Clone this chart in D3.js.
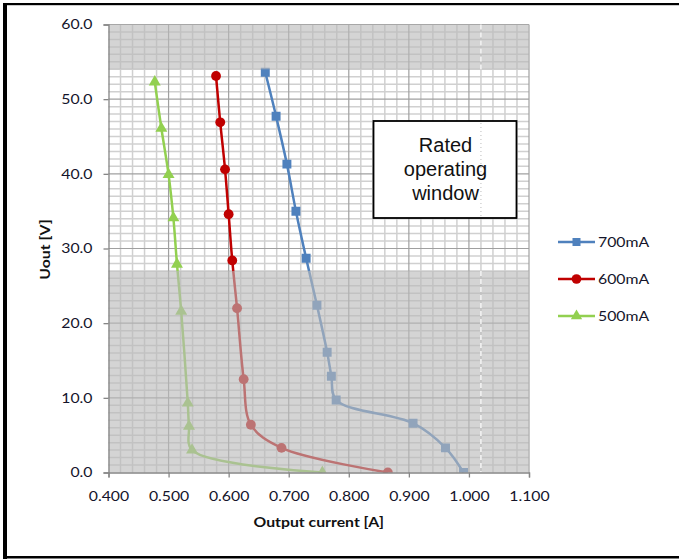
<!DOCTYPE html>
<html>
<head>
<meta charset="utf-8">
<script src="https://cdn.jsdelivr.net/npm/d3@7"></script>
<style>
  body { margin: 0; background: #fff; }
  svg { display: block; }
</style>
</head>
<body>
<div id="chart"></div>
<script>
// values
const seriesNames = ["700mA", "600mA", "500mA"];
const seriesColors = ["#4f81bd", "#c00000", "#92d050"];

const current700 = [0.661, 0.679, 0.697, 0.712, 0.729, 0.747, 0.764, 0.771, 0.779, 0.907, 0.961, 0.991];
const voltage700 = [53.6, 47.7, 41.3, 35.0, 28.7, 22.4, 16.1, 12.9, 9.7, 6.6, 3.3, 0.0];

const current600 = [0.579, 0.586, 0.594, 0.600, 0.606, 0.614, 0.625, 0.637, 0.688, 0.865];
const voltage600 = [53.1, 46.9, 40.6, 34.6, 28.4, 22.0, 12.5, 6.4, 3.3, 0.0];

const current500 = [0.477, 0.488, 0.500, 0.508, 0.514, 0.521, 0.532, 0.534, 0.539, 0.756];
const voltage500 = [52.3, 46.1, 39.9, 34.1, 27.9, 21.6, 9.3, 6.2, 3.0, 0.0];

const xTicks = [0.4, 0.5, 0.6, 0.7, 0.8, 0.9, 1.0, 1.1];
const yTicks = [0, 10, 20, 30, 40, 50, 60];

// gray bands outside the rated window (volts)
const grayBands = [[0, 27], [54, 60]];
const boxLines = ["Rated", "operating", "window"];

const W = 679, H = 559;
const margin = { left: 108.5, top: 24.5 };
const plotW = 420.5, plotH = 448;

const svg = d3.select("#chart").append("svg")
  .attr("width", W)
  .attr("height", H);

const x = d3.scaleLinear().domain([0.4, 1.1]).range([0, plotW]);
const y = d3.scaleLinear().domain([0, 60]).range([plotH, 0]);

const g = svg.append("g").attr("transform", `translate(${margin.left},${margin.top})`);

svg.append("defs").append("clipPath").attr("id", "plotclip")
  .append("rect").attr("width", plotW).attr("height", plotH);

// minor grid (0.02 A, 1 V)
const minorX = d3.range(0.42, 1.1, 0.02).filter(v => Math.abs(v * 10 - Math.round(v * 10)) > 1e-6);
const minorY = d3.range(1, 60, 1).filter(v => v % 10 !== 0);

g.append("g").selectAll("line").data(minorX).join("line")
  .attr("x1", d => x(d)).attr("x2", d => x(d))
  .attr("y1", 0).attr("y2", plotH)
  .attr("stroke", "#d0d0d0").attr("stroke-width", 1.5);

g.append("g").selectAll("line").data(minorY).join("line")
  .attr("x1", 0).attr("x2", plotW)
  .attr("y1", d => y(d)).attr("y2", d => y(d))
  .attr("stroke", "#d0d0d0").attr("stroke-width", 1.5);

// major grid
g.append("g").selectAll("line").data(xTicks.slice(1)).join("line")
  .attr("x1", d => x(d)).attr("x2", d => x(d))
  .attr("y1", 0).attr("y2", plotH)
  .attr("stroke", "#a0a0a0").attr("stroke-width", 1.2);

g.append("g").selectAll("line").data(yTicks.slice(1)).join("line")
  .attr("x1", 0).attr("x2", plotW)
  .attr("y1", d => y(d)).attr("y2", d => y(d))
  .attr("stroke", "#a0a0a0").attr("stroke-width", 1.2);

// series
const series = [
  { xs: current700, ys: voltage700, sym: d3.symbolSquare, size: 80 },
  { xs: current600, ys: voltage600, sym: d3.symbolCircle, size: 76 },
  { xs: current500, ys: voltage500, sym: d3.symbolTriangle, size: 62 }
];

const line = d3.line()
  .x(d => x(d[0]))
  .y(d => y(d[1]))
  .curve(d3.curveCatmullRom.alpha(0.5));

const plot = g.append("g").attr("clip-path", "url(#plotclip)");

series.forEach((s, i) => {
  const pts = s.xs.map((v, j) => [v, s.ys[j]]);
  plot.append("path")
    .datum(pts)
    .attr("d", line)
    .attr("fill", "none")
    .attr("stroke", seriesColors[i])
    .attr("stroke-width", 2.5);
  plot.append("g").selectAll("path").data(pts).join("path")
    .attr("d", d3.symbol().type(s.sym).size(s.size))
    .attr("transform", d => `translate(${x(d[0])},${y(d[1])})`)
    .attr("fill", seriesColors[i]);
});

// translucent gray bands on top of the lines
g.append("g").selectAll("rect").data(grayBands).join("rect")
  .attr("x", 0)
  .attr("width", plotW)
  .attr("y", d => y(d[1]))
  .attr("height", d => y(d[0]) - y(d[1]))
  .attr("fill", "rgb(185,185,185)")
  .attr("fill-opacity", 0.62);

// odd white dashed line at 1.02 inside gray bands
g.append("g").selectAll("line").data(grayBands).join("line")
  .attr("x1", x(1.02)).attr("x2", x(1.02))
  .attr("y1", d => y(d[1])).attr("y2", d => y(d[0]))
  .attr("stroke", "#fff").attr("stroke-width", 1.3)
  .attr("stroke-dasharray", "5,3");

// axes
const fontCal = "Lato, 'Open Sans', sans-serif";

const yAxis = g.append("g")
  .call(d3.axisLeft(y).tickValues(yTicks).tickFormat(d3.format(".1f")).tickSize(5).tickPadding(11));
const xAxis = g.append("g")
  .attr("transform", `translate(0,${plotH})`)
  .call(d3.axisBottom(x).tickValues(xTicks).tickFormat(d3.format(".3f")).tickSize(5).tickPadding(14));

[xAxis, yAxis].forEach(ax => {
  ax.select(".domain").attr("stroke", "#868686").attr("stroke-width", 1.3);
  ax.selectAll(".tick line").attr("stroke", "#868686").attr("stroke-width", 1.3);
  ax.selectAll(".tick text")
    .attr("class", "stretch")
    .attr("fill", "#14142a")
    .style("font-family", fontCal)
    .style("font-size", "13.5px");
});

// axis titles
svg.append("text")
  .attr("class", "stretch")
  .attr("x", margin.left + plotW / 2)
  .attr("y", 527)
  .attr("text-anchor", "middle")
  .style("font-family", fontCal)
  .style("font-size", "13.5px")
  .style("font-weight", "bold")
  .attr("fill", "#111")
  .text("Output current [A]");

svg.append("text")
  .attr("class", "stretch")
  .attr("transform", `translate(50,${margin.top + plotH / 2 + 1}) rotate(-90)`)
  .attr("text-anchor", "middle")
  .style("font-family", fontCal)
  .style("font-size", "13.5px")
  .style("font-weight", "bold")
  .attr("fill", "#111")
  .text("Uout [V]");

// text box
const box = svg.append("g");
box.append("rect")
  .attr("x", 373.5).attr("y", 121)
  .attr("width", 143).attr("height", 97)
  .attr("fill", "#fff")
  .attr("stroke", "#000")
  .attr("stroke-width", 1.8);
box.append("line")
  .attr("x1", margin.left + x(1.02)).attr("x2", margin.left + x(1.02))
  .attr("y1", 123).attr("y2", 216)
  .attr("stroke", "#bbb").attr("stroke-width", 1)
  .attr("stroke-dasharray", "1,3");
box.selectAll("text").data(boxLines).join("text")
  .attr("x", 445.5)
  .attr("y", (d, i) => 151.5 + i * 24)
  .attr("text-anchor", "middle")
  .style("font-family", "'Liberation Sans', Arial, sans-serif")
  .style("font-size", "20px")
  .attr("fill", "#111")
  .text(d => d);

// legend
const legend = svg.append("g");
const legendY = [242, 279, 316];
const legendSym = [d3.symbolSquare, d3.symbolCircle, d3.symbolTriangle];
const legendSize = [64, 74, 56];
seriesNames.forEach((name, i) => {
  const row = legend.append("g").attr("transform", `translate(558,${legendY[i]})`);
  row.append("line")
    .attr("x1", 0).attr("x2", 37)
    .attr("stroke", seriesColors[i]).attr("stroke-width", 2.5);
  row.append("path")
    .attr("d", d3.symbol().type(legendSym[i]).size(legendSize[i]))
    .attr("transform", "translate(18.5,0)")
    .attr("fill", seriesColors[i]);
  row.append("text")
    .attr("class", "stretch")
    .attr("x", 40)
    .attr("dy", "0.36em")
    .style("font-family", fontCal)
    .style("font-size", "13.5px")
    .attr("fill", "#14142a")
    .text(name);
});

// frame
svg.append("rect").attr("x", 3).attr("y", 3).attr("width", 4).attr("height", H - 3).attr("fill", "#000");
svg.append("rect").attr("x", 3).attr("y", 3).attr("width", W - 3).attr("height", 2.2).attr("fill", "#000");
svg.append("rect").attr("x", 3).attr("y", 556).attr("width", W - 3).attr("height", 2.5).attr("fill", "#000");

// the reference text is drawn wider than the font, stretch it a bit
svg.selectAll("text.stretch").each(function () {
  const len = this.getComputedTextLength();
  d3.select(this)
    .attr("textLength", len * 1.17)
    .attr("lengthAdjust", "spacingAndGlyphs");
});
</script>
</body>
</html>
